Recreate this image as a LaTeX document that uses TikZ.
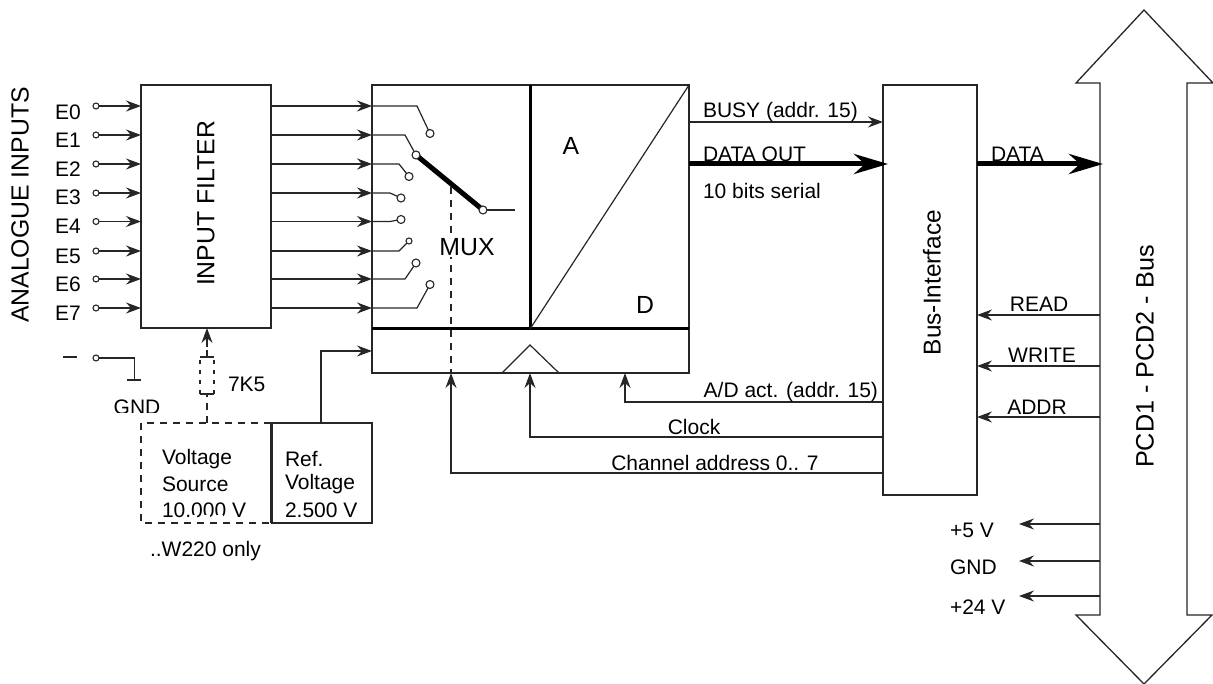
\documentclass[tikz,border=0pt]{standalone}
\usepackage{fontspec}
\setmainfont{Liberation Sans}
\usetikzlibrary{arrows.meta,calc}
\tikzset{
  every node/.style={inner sep=0pt,outer sep=0pt},
  ln/.style={draw=black!85,line width=1.2pt},
  boxn/.style={draw=black!85,line width=1.4pt,rectangle,anchor=north west,fill=none},
  arr/.style={ln,-{Stealth[length=15pt,width=11pt,inset=5pt]}},
  fat/.style={draw=black,line width=5pt,-{Stealth[length=34pt,width=20pt,inset=11pt]}},
  pin/.style={circle,draw=black!85,line width=1.1pt,fill=white,minimum size=6pt},
  swc/.style={circle,draw=black!85,line width=1.1pt,fill=white,minimum size=8pt},
  dsh/.style={draw=black!85,line width=1.2pt,dash pattern=on 7pt off 6pt},
  dshs/.style={draw=black!85,line width=1.2pt,dash pattern=on 4pt off 6pt},
  heavy/.style={draw=black,line width=3pt},
  big/.style={font=\fontsize{24.8}{28}\selectfont},
  mid/.style={font=\fontsize{21}{25}\selectfont},
  txt/.style={mid,anchor=west},
}
\begin{document}
\begin{tikzpicture}[x=1pt,y=-1pt]
\useasboundingbox (0,0) rectangle (1213,684);
% main blocks
\node[boxn,minimum width=130pt,minimum height=243pt] (filter) at (141,85) {};
\node[big,rotate=90] (filterl) at (206,203.5) {INPUT FILTER};
\node[boxn,minimum width=317pt,minimum height=288pt] (mux) at (372,85) {};
\node[boxn,minimum width=94pt,minimum height=410pt] (busif) at (883,85) {};
\node[rotate=90,font=\fontsize{24.4}{28}\selectfont] (busifl) at (932,282.5) {Bus-Interface};
\node[big,rotate=90] (inl) at (20,205) {ANALOGUE INPUTS};
% mux internals
\coordinate (muxdiv) at (530,329);
\draw[heavy] (530,85) -- (muxdiv);
\draw[heavy] (372,329) -- (689,329);
\draw[ln] (muxdiv) -- (689,85);
\draw[ln] (502,373) -- (530,345) -- (559,373);
\node[big] (al) at (571,146) {A};
\node[big] (dl) at (645,305) {D};
% input rows
\foreach \i/\y/\ty in {0/106/112,1/135/140,2/164/169,3/193/197,4/221.5/226,5/251/256,6/279/284,7/308/313}{
  \node[pin] (c\i) at (96,\y) {};
  \node[txt] (e\i) at (55,\ty) {E\i};
  \draw[arr] (c\i) -- (c\i -| filter.west);
  \coordinate (o\i) at (271,\y);
  \coordinate (m\i) at (372,\y);
  \draw[arr] (o\i) -- (m\i);
}
% switch contacts
\node[swc] (s0) at (430,133.5) {};
\node[swc] (s2) at (409,176.5) {};
\node[swc] (s3) at (401,198) {};
\node[swc] (s4) at (401,219.5) {};
\node[pin] (s5) at (409,241) {};
\node[swc] (s6) at (416,263) {};
\node[swc] (s7) at (430,284.5) {};
\coordinate (s1c) at (416,155);
\coordinate (wc) at (483,210);
\coordinate (wout) at (515,210);
\draw[ln] (m0) -- (417,106) -- (s0);
\draw[ln] (m1) -- (405,135) -- (s1c);
\draw[ln] (m2) -- (399,164) -- (s2);
\draw[ln] (m3) -- (390,193) -- (s3);
\draw[ln] (m4) -- (390,221.5) -- (s4);
\draw[ln] (m5) -- (399,251) -- (s5);
\draw[ln] (m6) -- (405,279) -- (s6);
\draw[ln] (m7) -- (417,308) -- (s7);
\draw[ln] (wc) -- (wout);
\draw[draw=black,line width=5pt] (s1c) -- (wc);
\node[swc] (s1) at (s1c) {};
\node[swc] (wiper) at (wc) {};
% mux control
\coordinate (chanup) at (451,373);
\coordinate (chtop) at (451,187);
\draw[dsh] (chtop) -- (chanup);
\node[big,fill=white,inner sep=1pt] (muxl) at (467,247) {MUX};
% bottom control lines
\coordinate (chl) at (451,473);
\coordinate (clk) at (530,437);
\coordinate (ad) at (625,402);
\draw[arr] (chl -| busif.west) -- (chl) -- (chanup);
\draw[arr] (clk -| busif.west) -- (clk) -- (530,373);
\draw[arr] (ad -| busif.west) -- (ad) -- (625,373);
\node[mid,anchor=east] (adl) at (878,392) {A/D act. (addr. 15)};
\node[mid] (clkl) at (694,427) {Clock};
\node[mid] (chll) at (715,463) {Channel address 0.. 7};
% right of ADC
\coordinate (busya) at (689,122);
\coordinate (dataa) at (689,164);
\draw[arr] (busya) -- (busya -| busif.west);
\node[txt] (dol) at (703,154) {DATA OUT};
\draw[fat] (dataa) -- (888,164);
\node[txt] (busyl) at (703,112) {BUSY (addr. 15)};
\node[txt] (serl) at (703,191) {10 bits serial};
% ground
\node[pin] (g) at (96,358) {};
\coordinate (gt) at (134.5,358);
\coordinate (gb) at (134.5,380);
\draw[ln] (g) -- (gt) -- (gb);
\draw[ln] (127,380) -- (141,380);
\draw[ln] (63,357) -- (77,357);
% big bus arrow
\draw[draw=black!85,line width=1.3pt,fill=white] (1100,83) -- (1076,83) -- (1144,10) -- (1213,83) -- (1187,83) -- (1187,615) -- (1212,615) -- (1144,684) -- (1076,615) -- (1100,615) -- cycle;
\node[rotate=90,font=\fontsize{25.2}{28}\selectfont] (pcd) at (1145,356.5) {PCD1 - PCD2 - Bus};
\coordinate (bl) at (1103,164);
\node[txt] (datal) at (991,154) {DATA};
\draw[fat] (busif.east |- bl) -- (bl);
\foreach \y/\t/\ty/\tx in {315/READ/304/1039,366/WRITE/355/1042,417/ADDR/407/1037}{
  \draw[arr] (1100,\y) -- (busif.east |- 0,\y);
  \node[mid] at (\tx,\ty) {\t};
}
\foreach \y in {524,561,596}{
  \draw[arr] (1100,\y) -- (1019,\y);
}
\node[txt] (p5) at (950,530) {+5 V};
\node[txt] (gnd2) at (950,567) {GND};
\node[txt] (p24) at (950,607) {+24 V};
% lower-left supply
\node[mid] (gndl) at (137,407) {GND};
\node[txt] (v1) at (162,459) {Voltage};
\node[txt] (v2) at (162,484) {Source};
\node[txt] (v3) at (162,510) {10.000 V};
\node[txt] (r1) at (285,459) {Ref.};
\node[txt] (r2) at (285,484) {Voltage};
\node[txt] (r3) at (285,510) {2.500 V};
\fill[white] (105,413) rectangle (172,423);
\draw[white,line width=4pt,dash pattern=on 7pt off 6pt] (190,517) -- (246,517);
\node[boxn,draw=none,minimum width=130pt,minimum height=100pt] (vs) at (141,423) {};
\node[boxn,minimum width=100pt,minimum height=100pt] (ref) at (272,423) {};
\draw[dsh] (vs.north east) -- (vs.north west) -- (vs.south west) -- (vs.south east);
\draw[draw=black!85,line width=2.2pt] (vs.north east) -- (vs.south east);
\coordinate (fb) at (207,328);
\coordinate (rb) at (207,394);
\draw[dsh] (207,423) -- (rb);
\draw[dshs] (200,394) -- (200,357);
\draw[dshs] (214,394) -- (214,357);
\draw[ln] (200,394) -- (214,394);
\draw[ln] (200,357) -- (214,357);
\draw[ln] (207,357) -- (207,350);
\draw[arr] (207,347) -- (fb);
\node[txt] (r75) at (228,384) {7K5};
\coordinate (rr) at (321,351);
\draw[arr] (ref.north -| rr) -- (rr) -- (372,351);
\node[txt] (w220) at (150,551) {..W220 only};
\end{tikzpicture}
\end{document}
